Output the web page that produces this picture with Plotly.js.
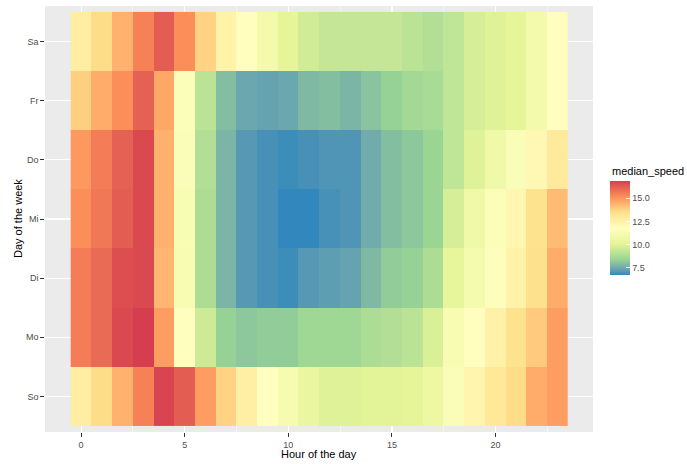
<!DOCTYPE html>
<html>
<head>
<meta charset="utf-8">
<script src="https://cdn.plot.ly/plotly-3.0.1.min.js"></script>
<style>html,body{margin:0;padding:0;background:#fff;}#chart{width:687px;height:464px;}</style>
</head>
<body>
<div id="chart"></div>
<script>
// Data
const hours = [0,1,2,3,4,5,6,7,8,9,10,11,12,13,14,15,16,17,18,19,20,21,22,23];
const days = ['So','Mo','Di','Mi','Do','Fr','Sa'];
const xTicks = [0,5,10,15,20];
const cbTickVals = [7.5,10,12.5,15];
const cbTickText = ['7.5','10.0','12.5','15.0'];

const speedSo = [12.8,13.6,14.5,15.5,16.8,16.3,14.9,13.8,12.7,11.9,11.2,10.5,10.0,10.0,10.1,10.1,10.2,10.7,11.5,12.4,13.1,13.6,14.6,14.9];
const speedMo = [15.6,16.0,16.7,16.9,14.9,11.8,9.6,8.4,8.2,8.3,8.3,8.6,8.6,8.6,8.9,9.0,9.2,9.9,11.3,11.9,12.6,13.4,14.0,14.9];
const speedDi = [15.6,16.0,16.6,16.7,14.4,11.3,8.9,7.8,7.2,7.0,6.9,7.2,7.3,7.4,7.9,8.3,8.4,8.9,10.3,11.1,11.7,12.5,13.5,14.6];
const speedMi = [15.2,15.7,16.3,16.7,14.5,11.4,8.9,7.8,7.2,7.0,6.8,6.8,7.0,7.1,7.6,8.0,8.2,8.5,9.8,10.8,11.6,12.3,13.4,14.3];
const speedDo = [15.0,15.6,16.2,16.7,14.5,11.5,9.0,7.8,7.2,7.0,6.9,7.0,7.1,7.1,7.6,8.0,8.2,8.5,9.3,10.0,10.8,11.5,12.2,13.0];
const speedFr = [13.9,14.6,15.2,16.2,14.7,11.6,9.2,8.0,7.5,7.4,7.5,7.9,8.0,7.8,8.1,8.4,8.7,8.8,9.3,9.8,10.0,10.2,11.0,11.9];
const speedSa = [12.8,13.6,14.5,15.5,16.3,15.2,13.8,12.5,11.9,11.0,10.2,9.7,9.4,9.4,9.4,9.4,9.2,9.0,9.3,9.8,10.0,10.2,11.0,11.9];

const z = [speedSo, speedMo, speedDi, speedMi, speedDo, speedFr, speedSa];

// Spectral (7-class), low -> high, interpolated in CIE Lab like ggplot
const spectralColors = ['#3288BD','#99D594','#E6F598','#FFFFBF','#FEE08B','#FC8D59','#D53E4F'];

function hexToRgb(h){ h=h.replace('#',''); return [0,2,4].map(i=>parseInt(h.substr(i,2),16)); }
function srgbToLin(c){ c/=255; return c<=0.04045? c/12.92 : Math.pow((c+0.055)/1.055,2.4); }
function linToSrgb(c){ c = c<=0.0031308? 12.92*c : 1.055*Math.pow(c,1/2.4)-0.055; return Math.max(0,Math.min(255,Math.round(c*255))); }
const WP=[0.95047,1,1.08883];
function rgbToLab(rgb){
  const [r,g,b]=rgb.map(srgbToLin);
  const X=(0.4124564*r+0.3575761*g+0.1804375*b)/WP[0];
  const Y=(0.2126729*r+0.7151522*g+0.0721750*b)/WP[1];
  const Z=(0.0193339*r+0.1191920*g+0.9503041*b)/WP[2];
  const f=t=> t>0.008856? Math.cbrt(t) : (7.787*t+16/116);
  const fx=f(X),fy=f(Y),fz=f(Z);
  return [116*fy-16, 500*(fx-fy), 200*(fy-fz)];
}
function labToRgb(lab){
  const [L,a,bb]=lab;
  const fy=(L+16)/116, fx=fy+a/500, fz=fy-bb/200;
  const finv=t=> t*t*t>0.008856? t*t*t : (t-16/116)/7.787;
  const X=finv(fx)*WP[0], Y=finv(fy)*WP[1], Z=finv(fz)*WP[2];
  const r= 3.2404542*X-1.5371385*Y-0.4985314*Z;
  const g=-0.9692660*X+1.8760108*Y+0.0415560*Z;
  const b= 0.0556434*X-0.2040259*Y+1.0572252*Z;
  return [r,g,b].map(linToSrgb);
}
function buildScale(cols, n){
  const labs=cols.map(c=>rgbToLab(hexToRgb(c)));
  const out=[];
  for(let i=0;i<=n;i++){
    const t=i/n, s=t*(labs.length-1);
    const k=Math.min(Math.floor(s), labs.length-2), f=s-k;
    const lab=labs[k].map((v,j)=>v+(labs[k+1][j]-v)*f);
    const [r,g,b]=labToRgb(lab);
    out.push([t,'rgb('+r+','+g+','+b+')']);
  }
  return out;
}
const spectral = buildScale(spectralColors, 96);

const W = 687, H = 464;
const M = {l:45, r:94, t:6, b:32};
const pw = W - M.l - M.r, ph = H - M.t - M.b;
const px = x => (x - M.l) / pw;
const py = y => (H - M.b - y) / ph;

const trace = {
  type: 'heatmap',
  x: hours,
  y: days,
  z: z,
  colorscale: spectral,
  xgap: 0, ygap: 0,
  colorbar: {
    thickness: 20,
    thicknessmode: 'pixels',
    len: 94,
    lenmode: 'pixels',
    x: px(610), xanchor: 'left', xpad: 0,
    y: py(180.5), yanchor: 'top', ypad: 0,
    outlinewidth: 0,
    tickvals: cbTickVals,
    ticktext: cbTickText,
    ticks: 'inside',
    ticklen: 4,
    tickcolor: '#ffffff',
    tickwidth: 1,
    tickfont: {family: 'Liberation Sans, Arial, sans-serif', size: 9, color: '#4D4D4D'}
  }
};

const tickFont = {family: 'Liberation Sans, Arial, sans-serif', size: 9, color: '#4D4D4D'};
const titleFont = {family: 'Liberation Sans, Arial, sans-serif', size: 11, color: '#000000'};

const layout = {
  width: W, height: H,
  margin: M,
  paper_bgcolor: '#ffffff',
  plot_bgcolor: '#EBEBEB',
  showlegend: false,
  xaxis: {
    range: [-1.74, 24.7],
    tickvals: xTicks,
    ticktext: xTicks.map(String),
    ticks: 'outside', ticklen: 3.7, tickwidth: 1, tickcolor: '#333333',
    tickfont: tickFont,
    showgrid: true, gridcolor: '#ffffff', gridwidth: 1.1,
    minor: {tick0: 2.5, dtick: 5, showgrid: true, gridcolor: '#ffffff', gridwidth: 0.5, ticks: ''},
    zeroline: false, showline: false, fixedrange: true
  },
  yaxis: {
    type: 'category',
    categoryorder: 'array', categoryarray: days,
    range: [-0.6, 6.6],
    ticks: 'outside', ticklen: 3.7, tickwidth: 1, tickcolor: '#333333',
    tickfont: tickFont,
    showgrid: true, gridcolor: '#ffffff', gridwidth: 1.1,
    zeroline: false, showline: false, fixedrange: true
  },
  annotations: [
    {text: 'Hour of the day', xref: 'paper', yref: 'paper', x: px(319), y: py(454),
     xanchor: 'center', yanchor: 'middle', showarrow: false, font: titleFont},
    {text: 'Day of the week', xref: 'paper', yref: 'paper', x: px(18), y: py(219),
     xanchor: 'center', yanchor: 'middle', textangle: -90, showarrow: false, font: titleFont},
    {text: 'median_speed', xref: 'paper', yref: 'paper', x: px(610), y: py(171),
     xanchor: 'left', yanchor: 'middle', showarrow: false, font: titleFont}
  ]
};

Plotly.newPlot('chart', [trace], layout, {displayModeBar: false, staticPlot: true});
</script>
</body>
</html>
